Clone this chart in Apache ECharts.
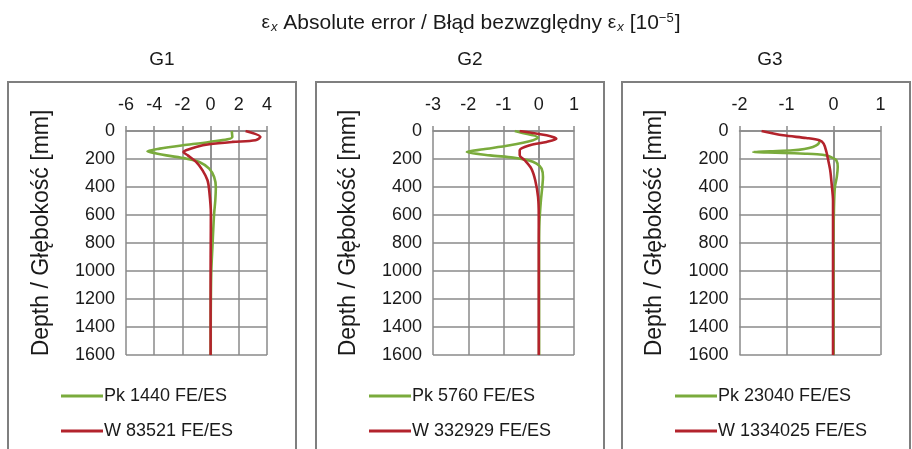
<!DOCTYPE html>
<html>
<head>
<meta charset="utf-8">
<script src="https://cdn.jsdelivr.net/npm/echarts@6/dist/echarts.min.js"></script>
<style>
  html, body { margin: 0; padding: 0; background: #fff; }
  #chart { width: 912px; height: 449px; }
</style>
</head>
<body>
<div id="chart"></div>
<script>
  // panel G1
  const g1PkDepth = [0, 43, 78, 102, 126, 145, 160, 174, 197, 221, 269, 329, 400, 500, 590, 700, 828, 1000, 1200, 1400, 1600];
  const g1PkVal   = [1.50, 1.54, -0.10, -1.97, -3.61, -4.48, -3.85, -3.14, -1.74, -0.80, -0.10, 0.25, 0.37, 0.33, 0.25, 0.19, 0.13, 0.05, 0.02, 0.01, 0.01];
  const g1WDepth  = [0, 43, 66, 78, 95, 114, 138, 150, 174, 221, 281, 352, 424, 590, 800, 1000, 1200, 1400, 1600];
  const g1WVal    = [2.48, 3.53, 3.18, 1.54, -0.10, -1.03, -1.74, -1.93, -1.62, -1.03, -0.57, -0.22, -0.10, 0.02, 0.01, 0, 0, 0, 0];

  // panel G2
  const g2PkDepth = [0, 12, 47, 66, 102, 131, 150, 174, 190, 209, 233, 269, 329, 400, 500, 650, 800, 1000, 1600];
  const g2PkVal   = [-0.68, -0.49, -0.02, -0.16, -0.82, -1.57, -2.04, -1.38, -0.73, -0.30, -0.06, 0.08, 0.12, 0.10, 0.06, 0.02, 0.01, 0.01, 0.01];
  const g2WDepth  = [0, 31, 55, 78, 102, 138, 174, 209, 269, 352, 471, 600, 800, 1000, 1600];
  const g2WVal    = [-0.54, 0.22, 0.50, 0.22, -0.25, -0.54, -0.54, -0.40, -0.21, -0.10, -0.02, 0, 0, 0, 0];

  // panel G3
  const g3PkDepth = [70, 95, 114, 128, 138, 145, 150, 154, 157, 162, 166, 175, 190, 209, 257, 329, 400, 550, 800, 1600];
  const g3PkVal   = [-0.29, -0.33, -0.44, -0.62, -0.86, -1.35, -1.71, -1.40, -1.07, -0.60, -0.35, -0.15, -0.03, 0.06, 0.09, 0.07, 0.03, 0.01, 0, 0];
  const g3WDepth  = [0, 31, 50, 66, 90, 150, 197, 281, 376, 500, 800, 1600];
  const g3WVal    = [-1.53, -1.07, -0.58, -0.30, -0.21, -0.15, -0.12, -0.07, -0.04, -0.01, -0.01, -0.01];

  const panelNames = ['G1', 'G2', 'G3'];
  const pkNames = ['Pk 1440 FE/ES', 'Pk 5760 FE/ES', 'Pk 23040 FE/ES'];
  const wNames  = ['W 83521 FE/ES', 'W 332929 FE/ES', 'W 1334025 FE/ES'];
  const xMin = [-6, -3, -2];
  const xMax = [4, 1, 1];
  const xStep = [2, 1, 1];

  const pkData = [[g1PkVal, g1PkDepth], [g2PkVal, g2PkDepth], [g3PkVal, g3PkDepth]];
  const wData  = [[g1WVal, g1WDepth], [g2WVal, g2WDepth], [g3WVal, g3WDepth]];

  const FONT = 'Liberation Sans, Arial, sans-serif';
  const GRAY = '#8a8a8a';
  const GREEN = '#7aab3c';
  const RED = '#b3232c';
  const INK = '#1a1a1a';

  const gridLeft = [126, 433, 739.5];
  const boxLeft = [8, 316, 622];
  const subCenter = [157, 465, 765];

  function pairs(vals, depths) {
    return vals.map((v, i) => [v, depths[i]]);
  }

  const chart = echarts.init(document.getElementById('chart'));

  const grids = [], xAxes = [], yAxes = [], series = [], legends = [], titles = [], graphics = [];

  titles.push({
    text: '{e|ε}{sub|x} Absolute error / Błąd bezwzględny {e|ε}{sub|x} [10{sup|−5}]',
    left: 466,
    textAlign: 'center',
    top: 7,
    textStyle: {
      fontFamily: FONT, fontSize: 21, fontWeight: 'normal', color: INK,
      rich: {
        e: { fontFamily: FONT, fontSize: 19, color: INK },
        sub: { fontFamily: FONT, fontSize: 13, fontStyle: 'italic', color: INK, verticalAlign: 'bottom', padding: [9, 0, 0, 1] },
        sup: { fontFamily: FONT, fontSize: 13, color: INK, verticalAlign: 'top', padding: [0, 1, 9, 0] }
      }
    }
  });

  for (let i = 0; i < 3; i++) {
    titles.push({
      text: panelNames[i],
      left: subCenter[i],
      textAlign: 'center',
      top: 45,
      textStyle: { fontFamily: FONT, fontSize: 19, fontWeight: 'normal', color: INK }
    });

    graphics.push({
      type: 'rect',
      shape: { x: boxLeft[i], y: 82, width: 288, height: 400 },
      style: { fill: 'none', stroke: '#7f7f7f', lineWidth: 2 },
      z: 0
    });

    grids.push({ left: gridLeft[i], width: 141, top: 131, height: 224 });

    xAxes.push({
      type: 'value',
      gridIndex: i,
      position: 'top',
      min: xMin[i],
      max: xMax[i],
      interval: xStep[i],
      axisLine: { show: true, lineStyle: { color: GRAY, width: 1.5 } },
      axisTick: { show: true, length: 5, lineStyle: { color: GRAY, width: 1.5 } },
      splitLine: { show: true, lineStyle: { color: GRAY, width: 1.5 } },
      axisLabel: { fontFamily: FONT, fontSize: 18, color: INK, margin: 17 }
    });

    yAxes.push({
      type: 'value',
      gridIndex: i,
      inverse: true,
      min: 0,
      max: 1600,
      interval: 200,
      name: 'Depth / Głębokość [mm]',
      nameLocation: 'middle',
      nameRotate: 90,
      nameGap: 73,
      nameTextStyle: { fontFamily: FONT, fontSize: 23, color: INK, padding: [0, 0, 0, 20] },
      axisLine: { show: true, lineStyle: { color: GRAY, width: 1.5 } },
      axisTick: { show: false },
      splitLine: { show: true, lineStyle: { color: GRAY, width: 1.5 } },
      axisLabel: { fontFamily: FONT, fontSize: 18, color: INK, margin: 11, formatter: v => String(v) }
    });

    series.push({
      name: pkNames[i],
      type: 'line',
      xAxisIndex: i,
      yAxisIndex: i,
      data: pairs(pkData[i][0], pkData[i][1]),
      showSymbol: false,
      symbol: 'none',
      smooth: 0.3,
      lineStyle: { color: GREEN, width: 2.6 },
      itemStyle: { color: GREEN },
      z: 3
    });
    series.push({
      name: wNames[i],
      type: 'line',
      xAxisIndex: i,
      yAxisIndex: i,
      data: pairs(wData[i][0], wData[i][1]),
      showSymbol: false,
      symbol: 'none',
      smooth: 0.3,
      lineStyle: { color: RED, width: 2.6 },
      itemStyle: { color: RED },
      z: 4
    });

    legends.push({
      data: [pkNames[i], wNames[i]],
      orient: 'vertical',
      left: boxLeft[i] + 48,
      top: 382,
      icon: 'rect',
      itemWidth: 42,
      itemHeight: 3,
      itemGap: 17,
      selectedMode: false,
      textStyle: { fontFamily: FONT, fontSize: 18, color: INK, padding: [0, 0, 0, -4] }
    });
  }

  chart.setOption({
    animation: false,
    backgroundColor: '#fff',
    title: titles,
    grid: grids,
    xAxis: xAxes,
    yAxis: yAxes,
    legend: legends,
    series: series,
    graphic: graphics
  });
</script>
</body>
</html>
